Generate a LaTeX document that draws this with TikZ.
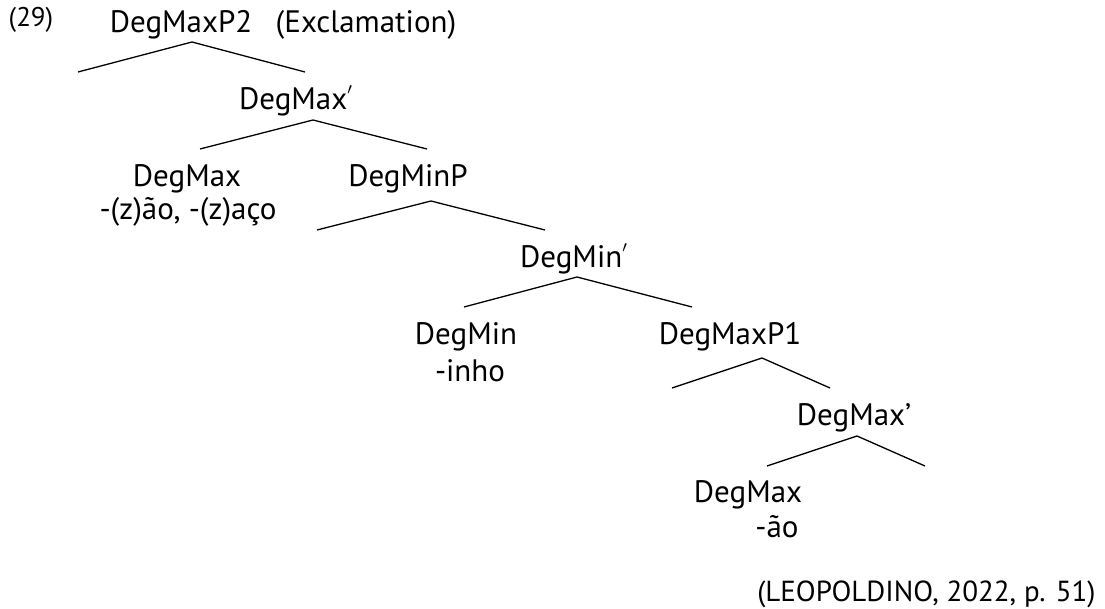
\documentclass[tikz,border=0pt]{standalone}
\usepackage{fontspec}
\setmainfont{PT Sans}
\usetikzlibrary{positioning}
\newcommand{\barlevel}{\raisebox{0.3ex}{$^{\scriptscriptstyle\prime}$}}
\tikzstyle{cat} = [anchor=base, inner sep=0pt, font=\fontsize{15.5}{18}\selectfont]
\tikzstyle{note} = [cat, font=\fontsize{13.5}{16}\selectfont]
\tikzstyle{branch} = [line width=0.65pt]

\begin{document}
\begin{tikzpicture}[x=0.5pt, y=-0.5pt]
\useasboundingbox (0,0) rectangle (1105,609);
%Labels
\node (ex) [note] at (31,27) {(29)};
\node (dmaxp2) [cat] at (181,33) {DegMaxP2};
\node (excl) [cat] at (366,33) {(Exclamation)};
\node (dmaxbar2) [cat] at (296,110) {DegMax\barlevel};
\node (dmax2) [cat] at (187,187) {DegMax};
\node (suf2) [cat] at (188,220) {-(z)ão, -(z)aço};
\node (dminp) [cat] at (408,187) {DegMinP};
\node (dminbar) [cat] at (574,268) {DegMin\barlevel};
\node (dmin) [cat] at (466,345) {DegMin};
\node (sufmin) [cat] at (470,382) {-inho};
\node (dmaxp1) [cat] at (730,345) {DegMaxP1};
\node (dmaxbar1) [cat] at (854,426) {DegMax’};
\node (dmax1) [cat] at (748,503) {DegMax};
\node (suf1) [cat] at (777,538) {-ão};
\node (src) [cat, anchor=base east, font=\fontsize{14.5}{17}\selectfont] at (1096,602) {(LEOPOLDINO, 2022, p. 51)};
%Branches
\coordinate (a1) at (192,42);  \coordinate (a1l) at (78,72);   \coordinate (a1r) at (305,72);
\coordinate (a2) at (313,120); \coordinate (a2l) at (200,149); \coordinate (a2r) at (427,149);
\coordinate (a3) at (431,201); \coordinate (a3l) at (317,230); \coordinate (a3r) at (545,230);
\coordinate (a4) at (577,277); \coordinate (a4l) at (464,307); \coordinate (a4r) at (692,307);
\coordinate (a5) at (762,358); \coordinate (a5l) at (672,388); \coordinate (a5r) at (830,388);
\coordinate (a6) at (857,436); \coordinate (a6l) at (767,466); \coordinate (a6r) at (925,466);
\draw [branch] (a1l) -- (a1) -- (a1r);
\draw [branch] (a2l) -- (a2) -- (a2r);
\draw [branch] (a3l) -- (a3) -- (a3r);
\draw [branch] (a4l) -- (a4) -- (a4r);
\draw [branch] (a5l) -- (a5) -- (a5r);
\draw [branch] (a6l) -- (a6) -- (a6r);
\end{tikzpicture}
\end{document}
